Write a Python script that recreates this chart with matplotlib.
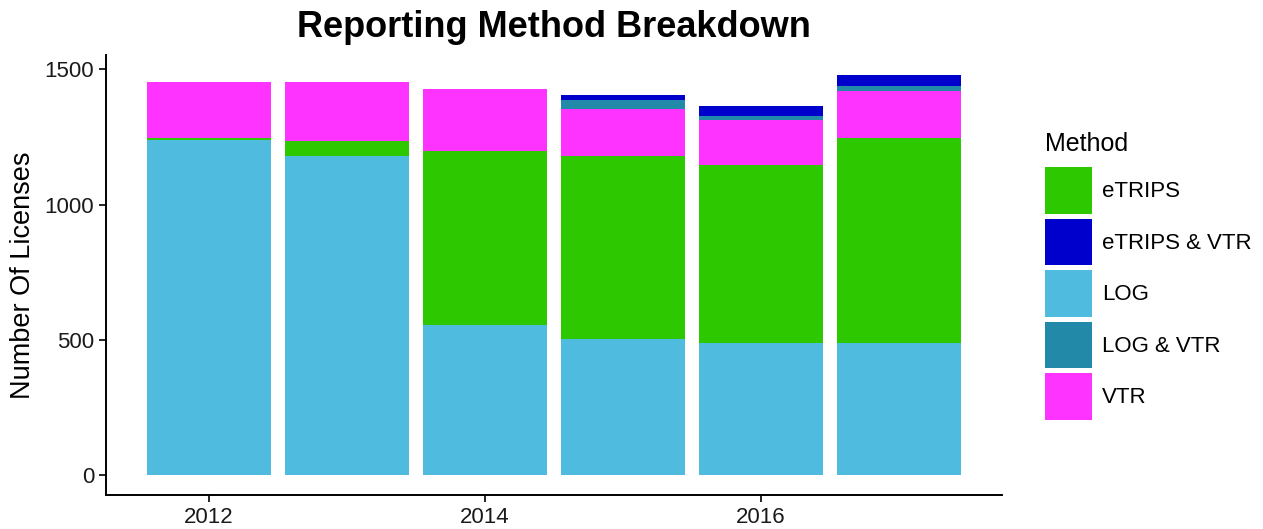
import matplotlib

matplotlib.use("Agg")
import matplotlib.pyplot as plt
import numpy as np

plt.rcParams["font.family"] = ["Liberation Sans", "DejaVu Sans"]

years = [2012, 2013, 2014, 2015, 2016, 2017]
# stacked bottom-up
log = [1237, 1178, 554, 504, 488, 488]
etrips = [8, 58, 643, 676, 657, 758]
vtr = [209, 218, 231, 175, 168, 174]
log_vtr = [0, 0, 0, 31, 16, 17]
etrips_vtr = [0, 0, 0, 20, 34, 42]

colors = {
    "eTRIPS": "#2DC800",
    "eTRIPS & VTR": "#0000CC",
    "LOG": "#4FBBDE",
    "LOG & VTR": "#2389A8",
    "VTR": "#FF33FF",
}

stack = [("LOG", log), ("eTRIPS", etrips), ("VTR", vtr),
         ("LOG & VTR", log_vtr), ("eTRIPS & VTR", etrips_vtr)]

fig = plt.figure(figsize=(12.63, 5.29), dpi=100)
ax = fig.add_axes([0.0839, 0.0643, 0.7094, 0.8318])

x = np.array(years)
bottom = np.zeros(len(years))
handles = {}
for name, vals in stack:
    v = np.array(vals, dtype=float)
    handles[name] = ax.bar(x, v, width=0.9, bottom=bottom, color=colors[name],
                           edgecolor="none", label=name)
    bottom += v

ax.set_xlim(2011.255, 2017.745)
ax.set_ylim(-74, 1553)
ax.set_xticks([2012, 2014, 2016])
ax.set_yticks([0, 500, 1000, 1500])
ax.tick_params(labelsize=16, labelcolor="#1a1a1a", length=5, width=1.2)
for s in ["top", "right"]:
    ax.spines[s].set_visible(False)
for s in ["left", "bottom"]:
    ax.spines[s].set_linewidth(1.4)
ax.set_ylabel("Number Of Licenses", fontsize=19.5, labelpad=6)
ax.set_title("Reporting Method Breakdown", fontsize=26, fontweight="bold", pad=13)

order = ["eTRIPS", "eTRIPS & VTR", "LOG", "LOG & VTR", "VTR"]
leg = ax.legend([handles[n] for n in order], order, title="Method",
                loc="upper left", bbox_to_anchor=(1034 / 1263, 1 - 121 / 529),
                bbox_transform=fig.transFigure, frameon=False, borderpad=0,
                fontsize=16, title_fontsize=18, handlelength=2.1,
                handleheight=2.85, labelspacing=0.22, handletextpad=0.45,
                alignment="left")
leg._legend_box.sep = 8  # a bit more room under the legend title

fig.savefig("out.png", dpi=100)
